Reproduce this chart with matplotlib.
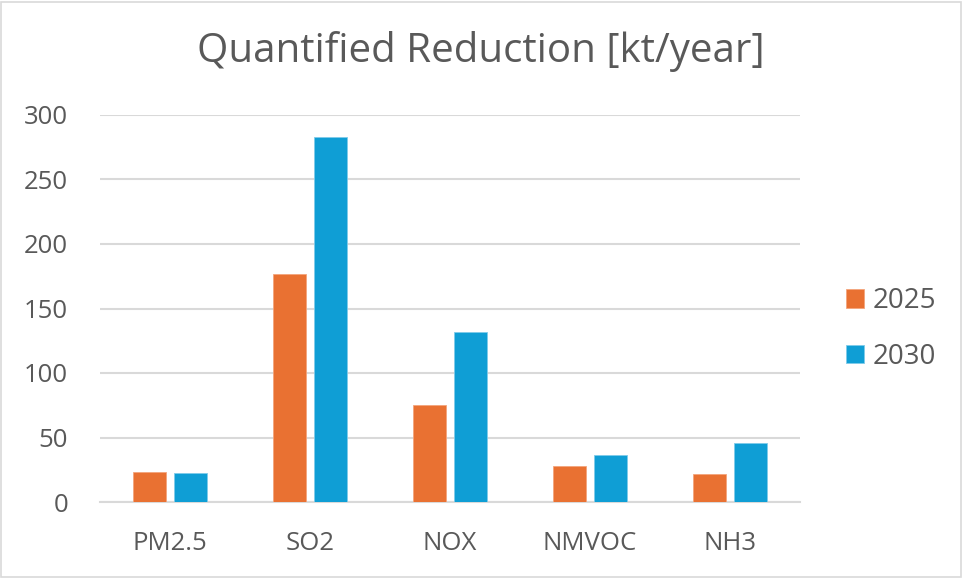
import numpy as np
import matplotlib
matplotlib.use('Agg')
import matplotlib.pyplot as plt
from matplotlib.patches import Rectangle

# data
categories = ['PM2.5', 'SO2', 'NOX', 'NMVOC', 'NH3']
years = ['2025', '2030']
vals_2025 = [23.4, 176.7, 75.2, 27.6, 21.6]
vals_2030 = [22.4, 282.6, 131.8, 36.2, 46.1]
yticks = [0, 50, 100, 150, 200, 250, 300]

plt.rcParams['font.family'] = ['Open Sans', 'DejaVu Sans']
txt = '#595959'
c25 = '#E97132'
c30 = '#0F9ED5'

fig = plt.figure(figsize=(9.63, 5.78), dpi=100)
W, H = 963, 578
ax = fig.add_axes([100 / W, 1 - 502 / H, 700 / W, 387 / H])

x = np.arange(len(categories))
bw = 0.23
off = 0.146
ax.bar(x - off, vals_2025, bw, color=c25, edgecolor='#f4a57c', linewidth=0.6, label=years[0], zorder=3)
ax.bar(x + off, vals_2030, bw, color=c30, edgecolor='#7fcbea', linewidth=0.6, label=years[1], zorder=3)

ax.set_xlim(-0.5, len(categories) - 0.5)
ax.set_ylim(0, 300)
ax.set_yticks(yticks)
ax.set_xticks(x)
ax.set_xticklabels(categories)
ax.yaxis.grid(True, color='#d9d9d9', linewidth=1.5, zorder=0)
for s in ['top', 'right', 'left']:
    ax.spines[s].set_visible(False)
ax.spines['bottom'].set_color('#d9d9d9')
ax.spines['bottom'].set_linewidth(1.5)
ax.tick_params(axis='both', length=0, labelsize=18.5, colors=txt)
ax.tick_params(axis='x', pad=21)
ax.tick_params(axis='y', pad=23)

fig.text(481 / W, 1 - 51 / H, 'Quantified Reduction [kt/year]', ha='center', va='center',
         fontsize=29, color=txt)

leg = ax.legend(loc='center left', bbox_to_anchor=(821 / W, 1 - 329 / H), bbox_transform=fig.transFigure,
                frameon=False, fontsize=20, handlelength=0.65, handleheight=0.65, handletextpad=0.3,
                labelspacing=1.0)
for t in leg.get_texts():
    t.set_color(txt)

# chart border
fig.patches.append(Rectangle((0.001, 0.002), 0.997, 0.995, transform=fig.transFigure,
                             fill=False, edgecolor='#d9d9d9', linewidth=1.2))

fig.savefig('out.png', dpi=100)
